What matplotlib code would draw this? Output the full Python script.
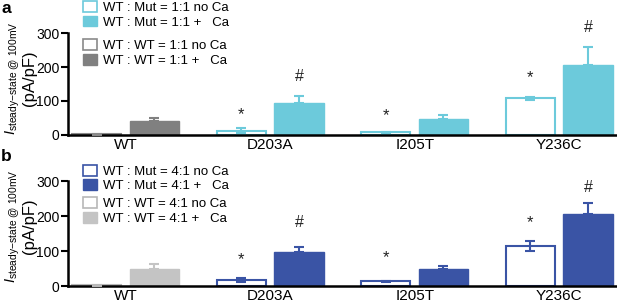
import numpy as np
import matplotlib.pyplot as plt
from matplotlib.patches import Patch

plt.rcParams["font.family"] = ["Liberation Sans", "DejaVu Sans"]
plt.rcParams["mathtext.fontset"] = "custom"
plt.rcParams["mathtext.rm"] = "Liberation Sans"
plt.rcParams["mathtext.it"] = "Liberation Sans:italic"

# Data
groups = ["WT", "D203A", "I205T", "Y236C"]

a_noca = [2, 13, 8, 108]
a_noca_err = [1, 6, 2, 5]
a_ca = [42, 93, 47, 207]
a_ca_err = [8, 23, 12, 51]
a_star = [None, 60, 58, 169]
a_hash = [None, 172, None, 317]

b_noca = [2, 18, 14, 115]
b_noca_err = [1, 5, 2, 15]
b_ca = [50, 98, 48, 206]
b_ca_err = [12, 15, 10, 31]
b_star = [None, 77, 80, 182]
b_hash = [None, 181, None, 281]

panels = [
    dict(letter="a", ratio="1:1", color="#6ccadb", wt_color="#808080", wt_edge="#8a8a8a",
         noca=a_noca, noca_err=a_noca_err, ca=a_ca, ca_err=a_ca_err, star=a_star, hash=a_hash,
         rect=[0.110, 0.559, 0.890, 0.333], leg_y=[0.997, 0.872], lab_y=0.56),
    dict(letter="b", ratio="4:1", color="#3a54a5", wt_color="#c4c4c4", wt_edge="#b8b8b8",
         noca=b_noca, noca_err=b_noca_err, ca=b_ca, ca_err=b_ca_err, star=b_star, hash=b_hash,
         rect=[0.110, 0.065, 0.890, 0.343], leg_y=[0.462, 0.355], lab_y=0.57),
]

fig = plt.figure(figsize=(6.17, 3.06), dpi=100)
x = np.arange(len(groups))
w = 0.34
off = 0.199

for p in panels:
    ax = fig.add_axes(p["rect"])
    c = p["color"]
    edge_noca = [p["wt_edge"]] + [c] * 3
    face_ca = [p["wt_color"]] + [c] * 3
    ax.bar(x - off, p["noca"], w, facecolor="white", edgecolor=edge_noca, linewidth=1.5, zorder=2)
    ax.bar(x + off, p["ca"], w, facecolor=face_ca, edgecolor=face_ca, linewidth=1.0, zorder=2)
    for i in range(len(groups)):
        ax.errorbar(x[i] - off, p["noca"][i], yerr=p["noca_err"][i], fmt="none",
                    ecolor=edge_noca[i], elinewidth=1.5, capsize=3.5, capthick=1.5, zorder=3)
        ax.errorbar(x[i] + off, p["ca"][i], yerr=[[0], [p["ca_err"][i]]], fmt="none",
                    ecolor=face_ca[i], elinewidth=1.5, capsize=3.5, capthick=1.5, zorder=3)
        if p["star"][i] is not None:
            ax.text(x[i] - off, p["star"][i], "*", ha="center", va="center", fontsize=12,
                    color="#222222", clip_on=False)
        if p["hash"][i] is not None:
            ax.text(x[i] + off, p["hash"][i], "#", ha="center", va="center", fontsize=11.5,
                    color="#222222", clip_on=False)

    ax.set_xlim(-0.40, 3.40)
    ax.set_ylim(0, 300)
    ax.set_yticks([0, 100, 200, 300])
    ax.set_xticks(x)
    ax.set_xticklabels(groups, fontsize=11)
    ax.tick_params(axis="x", length=0, pad=2)
    ax.tick_params(axis="y", length=5, width=1.5, labelsize=10, pad=1)
    for s in ["top", "right"]:
        ax.spines[s].set_visible(False)
    ax.spines["left"].set_linewidth(1.8)
    ax.spines["bottom"].set_linewidth(1.8)

    # y label: two lines drawn separately so the units line can be larger
    ax.text(-0.117, p["lab_y"], r"$I_{\mathrm{steady\!-\!state\ @\ 100mV}}$", transform=ax.transAxes,
            rotation=90, ha="left", va="center", fontsize=10.5)
    ax.text(-0.084, p["lab_y"], "(pA/pF)", transform=ax.transAxes,
            rotation=90, ha="left", va="center", fontsize=12)

    fig.text(0.002, p["rect"][1] + p["rect"][3] + 0.105, p["letter"], fontsize=12.5,
             fontweight="bold", va="top")

    r = p["ratio"]
    h1 = [Patch(facecolor="white", edgecolor=c, linewidth=1.2),
          Patch(facecolor=c, edgecolor=c)]
    l1 = [f"WT : Mut = {r} no Ca", f"WT : Mut = {r} +   Ca"]
    h2 = [Patch(facecolor="white", edgecolor=p["wt_edge"], linewidth=1.2),
          Patch(facecolor=p["wt_color"], edgecolor=p["wt_color"])]
    l2 = [f"WT : WT = {r} no Ca", f"WT : WT = {r} +   Ca"]
    for hh, ll, yy in [(h1, l1, p["leg_y"][0]), (h2, l2, p["leg_y"][1])]:
        fig.legend(hh, ll, loc="upper left", bbox_to_anchor=(0.134, yy), frameon=False,
                   fontsize=9.5, handlelength=1.1, handleheight=0.9, handletextpad=0.45,
                   labelspacing=0.12, borderpad=0, borderaxespad=0)

fig.savefig("out.png", dpi=100)
